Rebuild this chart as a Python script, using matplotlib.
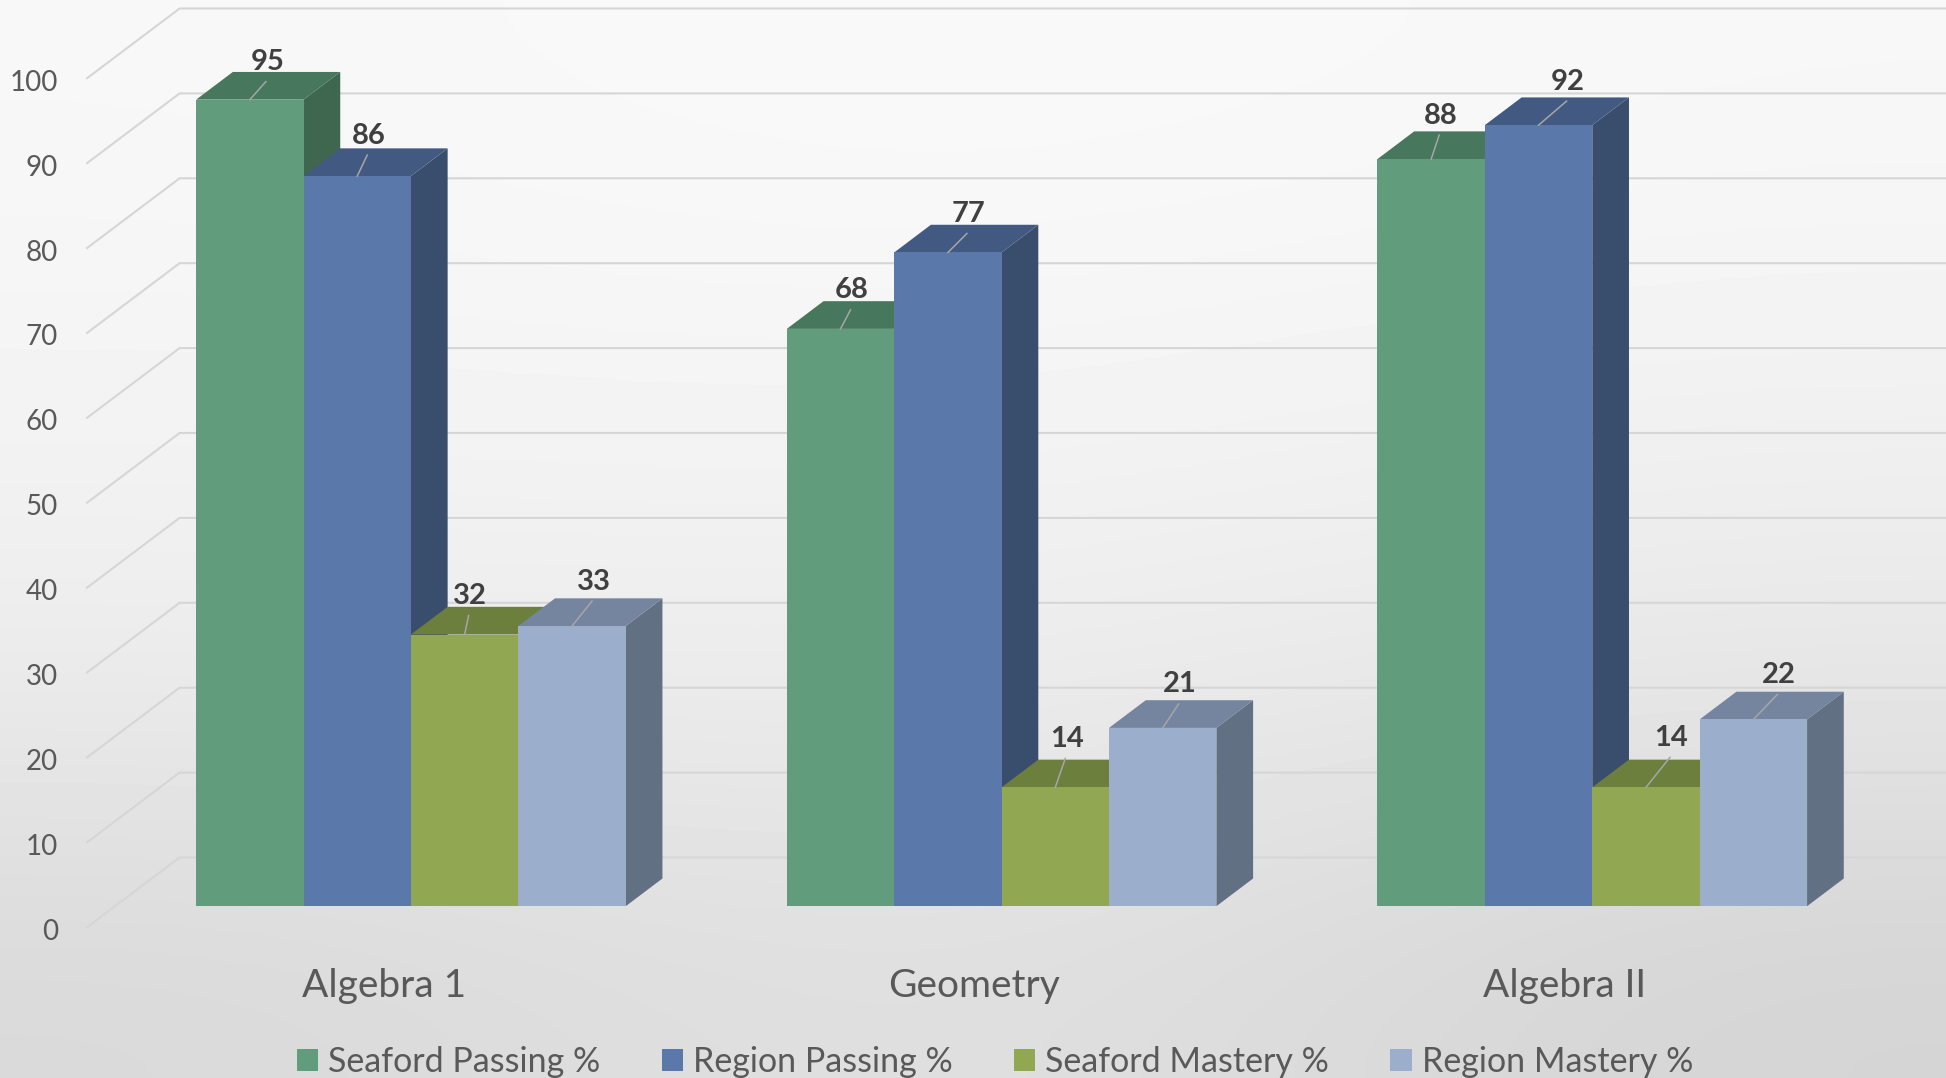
import numpy as np
import matplotlib
matplotlib.use("Agg")
import matplotlib.pyplot as plt
from matplotlib.patches import Patch

plt.rcParams['font.family'] = ['Lato', 'DejaVu Sans']

categories = ["Algebra 1", "Geometry", "Algebra II"]
series_names = ["Seaford Passing %", "Region Passing %", "Seaford Mastery %", "Region Mastery %"]
seaford_passing = [95, 68, 88]
region_passing = [86, 77, 92]
seaford_mastery = [32, 14, 14]
region_mastery = [33, 21, 22]
y_ticks = list(range(0, 101, 10))

# front, top, side colours per series
front_colors = ["#619C7C", "#5A78AA", "#91A752", "#9BAECC"]
top_colors = ["#47775C", "#425A82", "#6D7F3D", "#76859F"]
side_colors = ["#3F664F", "#394E6D", "#6D7F3D", "#627084"]

# label shifts from the bar's front centre, in pixels, one row per category
label_dx = [[16, 10, 4, 20], [10, 19, 10, 16], [8, 28, 24, 24]]
label_dy = [[40, 43, 41, 47], [41, 41, 51, 46], [46, 46, 52, 47]]

W, H = 1946, 1078
CAT_PX = 590.67
VAL_PX = 8.49
X0_PX = 115.6
Y0_PX = 906.2

fig = plt.figure(figsize=(W / 100, H / 100), dpi=100)
ax = fig.add_axes([0, 0, 1, 1])
ax.set_xlim(-X0_PX / CAT_PX, (W - X0_PX) / CAT_PX)
ax.set_ylim(-(H - Y0_PX) / VAL_PX, Y0_PX / VAL_PX)
ax.axis("off")

# slide background, soft grey shading
bg = np.array([[0.97, 0.98, 0.97],
               [0.955, 0.96, 0.945],
               [0.925, 0.93, 0.905],
               [0.85, 0.885, 0.83]])
ax.imshow(bg, cmap="gray", vmin=0, vmax=1, interpolation="bicubic", aspect="auto",
          extent=[*ax.get_xlim(), *ax.get_ylim()], origin="upper", zorder=0)


def px_x(p):
    return p / CAT_PX


def px_y(p):
    return p / VAL_PX


# depth offsets of the oblique projection
bar_dx, bar_dy = px_x(36.7), px_y(27.7)
wall_dx, wall_dy = px_x(64), px_y(48.7)
front_dx, front_dy = px_x(-28.5), px_y(-21)

x_end = ax.get_xlim()[1]
for v in y_ticks:
    ax.plot([front_dx, wall_dx, x_end], [v + front_dy, v + wall_dy, v + wall_dy],
            color="#D6D6D6", lw=1.5, zorder=1, solid_joinstyle="miter")
    ax.text(front_dx - px_x(29), v + front_dy - px_y(2), str(v), ha="right", va="center_baseline",
            fontsize=20, color="#595959", zorder=5)

series = [seaford_passing, region_passing, seaford_mastery, region_mastery]
bar_w = 107.4 / CAT_PX
group_left = 0.5 - 2 * bar_w

z = 2
for c in range(len(categories)):
    for s, vals in enumerate(series):
        left = c + group_left + s * bar_w
        v = vals[c]
        ax.fill([left + bar_w, left + bar_w + bar_dx, left + bar_w + bar_dx, left + bar_w],
                [0, bar_dy, v + bar_dy, v], color=side_colors[s], lw=0, zorder=z)
        ax.fill([left, left + bar_w, left + bar_w + bar_dx, left + bar_dx],
                [v, v, v + bar_dy, v + bar_dy], color=top_colors[s], lw=0, zorder=z)
        ax.bar(left, v, width=bar_w, align="edge", color=front_colors[s], lw=0, zorder=z)
        z += 1

for c in range(len(categories)):
    for s, vals in enumerate(series):
        cx = c + group_left + (s + 0.5) * bar_w
        v = vals[c]
        dx, dy = label_dx[c][s], label_dy[c][s]
        ax.plot([cx, cx + px_x(dx)], [v, v + px_y(dy - 22)], color="#A6A6A6", lw=1.1, zorder=50)
        # text sits a touch right of the leader end
        ax.text(cx + px_x(dx + 1.5), v + px_y(dy), str(v), ha="center", va="center_baseline",
                fontsize=21, fontweight="bold", color="#404040", zorder=51)

for c, name in enumerate(categories):
    ax.text(c + 0.5 + front_dx + px_x(1.2), px_y(Y0_PX - 985.5), name, ha="center", va="center",
            fontsize=28, color="#595959", zorder=5)

handles = [Patch(facecolor=col, edgecolor="none", label=n) for col, n in zip(front_colors, series_names)]
ax.legend(handles=handles, ncol=4, loc="center", bbox_to_anchor=(995 / W, 1 - 1062 / H),
          frameon=False, fontsize=24.5, labelcolor="#595959", handlelength=0.62, handleheight=0.62,
          handletextpad=0.3, columnspacing=1.8, borderpad=0, borderaxespad=0)

fig.savefig("out.png", dpi=100)
